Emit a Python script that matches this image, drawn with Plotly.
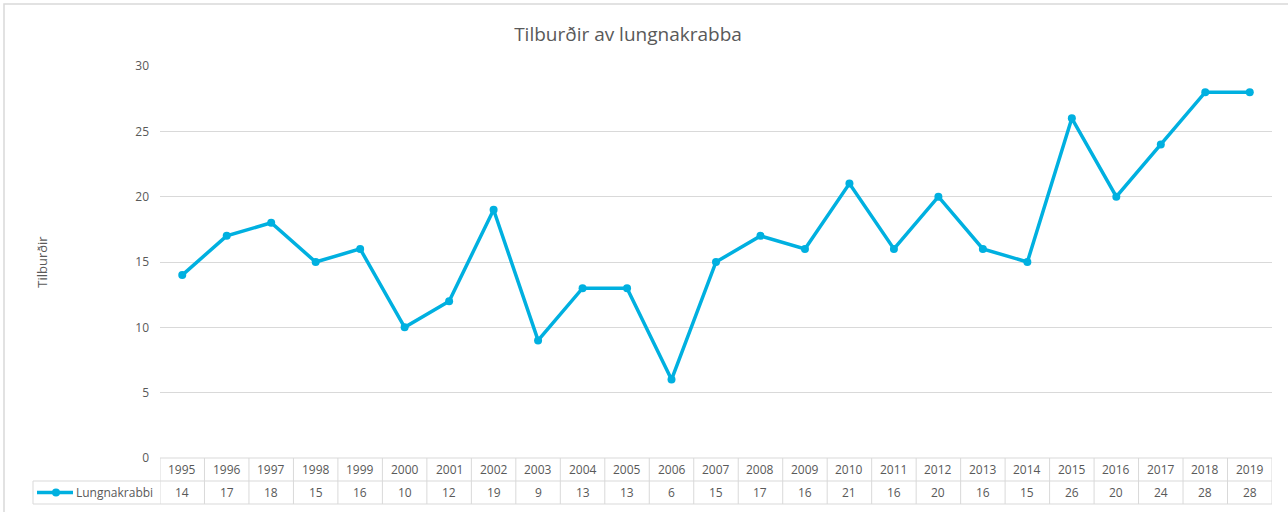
import plotly.graph_objects as go

years = [str(y) for y in range(1995, 2020)]
lungnakrabbi = [14, 17, 18, 15, 16, 10, 12, 19, 9, 13, 13, 6, 15, 17, 16, 21, 16, 20, 16, 15, 26, 20, 24, 28, 28]
series_name = "Lungnakrabbi"

LINE = "#00B0E0"
GRID = "#D9D9D9"
TEXT = "#595959"
FONT = "Open Sans"

W, H = 1288, 512
ML, MR, MT, MB = 160, 16, 66, 54
plot_w = W - ML - MR
plot_h = H - MT - MB
row = 23 / plot_h  # table row height in paper units
n = len(years)


def px_x(p):
    return (p - ML) / plot_w


fig = go.Figure()
fig.add_trace(go.Scatter(
    x=list(range(n)), y=lungnakrabbi, mode="lines+markers", name=series_name,
    line=dict(color=LINE, width=3.5), marker=dict(color=LINE, size=8), showlegend=False,
))

shapes = []
ann = []
legend_left = px_x(33)
gl = dict(color=GRID, width=1)
shapes.append(dict(type="line", xref="x", yref="paper", x0=-0.5, x1=n - 0.5, y0=0, y1=0, line=gl))
for k in (1, 2):
    shapes.append(dict(type="line", xref="paper", yref="paper", x0=legend_left, x1=1,
                       y0=-k * row, y1=-k * row, line=gl))
shapes.append(dict(type="line", xref="paper", yref="paper", x0=legend_left, x1=legend_left,
                   y0=-row, y1=-2 * row, line=gl))
for i in range(n + 1):
    shapes.append(dict(type="line", xref="x", yref="paper", x0=i - 0.5, x1=i - 0.5, y0=0, y1=-2 * row, line=gl))
for i, (yr, v) in enumerate(zip(years, lungnakrabbi)):
    ann.append(dict(x=i, y=-row / 2, xref="x", yref="paper", text=yr, showarrow=False, yanchor="middle",
                    font=dict(size=12, color=TEXT, family=FONT)))
    ann.append(dict(x=i, y=-1.5 * row, xref="x", yref="paper", text=str(v), showarrow=False, yanchor="middle",
                    font=dict(size=12, color=TEXT, family=FONT)))

# legend key inside the table
ky = -1.5 * row
shapes.append(dict(type="line", xref="paper", yref="paper", x0=px_x(37), x1=px_x(73), y0=ky, y1=ky,
                   line=dict(color=LINE, width=3.5)))
shapes.append(dict(type="circle", xref="paper", yref="paper", x0=px_x(52), x1=px_x(60),
                   y0=ky - 4 / plot_h, y1=ky + 4 / plot_h, fillcolor=LINE, line=dict(color=LINE, width=0)))
ann.append(dict(x=px_x(74), y=ky, xref="paper", yref="paper", text=series_name, showarrow=False,
                xanchor="left", yanchor="middle", font=dict(size=12, color=TEXT, family=FONT)))

# outer chart border
shapes.append(dict(type="rect", xref="paper", yref="paper",
                   x0=px_x(4), x1=px_x(1300),
                   y0=-(MB + 10) / plot_h, y1=1 + (MT - 4) / plot_h,
                   line=dict(color=GRID, width=1.5)))

fig.update_layout(
    width=W, height=H, margin=dict(l=ML, r=MR, t=MT, b=MB, autoexpand=False),
    paper_bgcolor="white", plot_bgcolor="white",
    font=dict(family=FONT, color=TEXT, size=12),
    title=dict(text="Tilburðir av lungnakrabba", x=628 / W, xref="container", xanchor="center",
               y=1 - 34 / H, yanchor="middle",
               font=dict(size=19, color=TEXT, family=FONT)),
    xaxis=dict(range=[-0.5, n - 0.5], showticklabels=False, showgrid=False, zeroline=False,
               showline=False, ticks="", automargin=False),
    yaxis=dict(range=[0, 30], dtick=5, showgrid=True, gridcolor=GRID, gridwidth=1, zeroline=False,
               showline=False, ticks="", ticklabelstandoff=10, automargin=False,
               title=dict(text="Tilburðir", standoff=84, font=dict(size=13, color=TEXT, family=FONT)),
               tickfont=dict(size=12, color=TEXT, family=FONT)),
    showlegend=False,
    shapes=shapes, annotations=ann,
)

fig.write_html("out.html", config={"displayModeBar": False},
               post_script="document.body.style.margin='0';")
